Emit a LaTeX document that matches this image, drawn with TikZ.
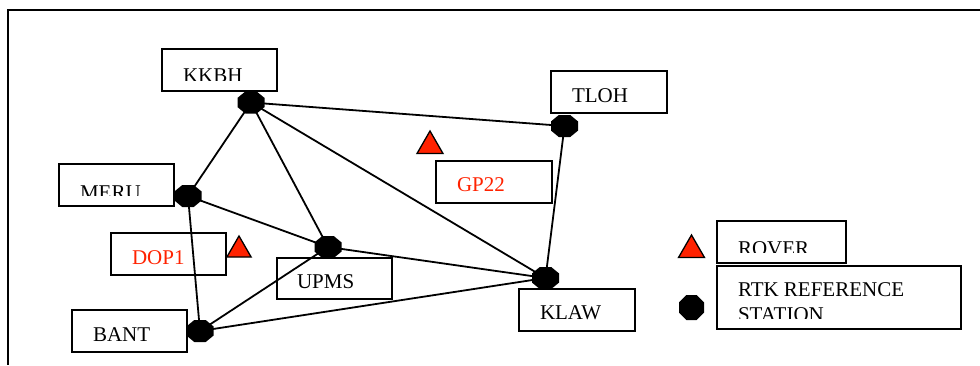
\documentclass[tikz,border=0pt]{standalone}
\usepackage{fontspec}
\setmainfont{Liberation Serif}
\usetikzlibrary{shapes.geometric,backgrounds}
\definecolor{roverred}{RGB}{255,34,0}
\newcommand\labbox[9]{%
  \node[box, anchor=north west, minimum width={(#4-#2)*1pt}, minimum height={(#5-#3)*1pt}] (#1box) at (#2,#3) {};
  \begin{scope}
    \clip (#2,#3) rectangle (#4,#5-11);
    \node[lbl, text=#8] (#1txt) at (#6,#7) {#9};
  \end{scope}}
\newcommand\octfill[3]{% node name, x cut, y cut
  \fill[black] ([xshift=#2]#1.north west) -- ([xshift=-#2]#1.north east) -- ([yshift=-#3]#1.north east)
   -- ([yshift=#3]#1.south east) -- ([xshift=-#2]#1.south east) -- ([xshift=#2]#1.south west)
   -- ([yshift=#3]#1.south west) -- ([yshift=-#3]#1.north west) -- cycle;}
\begin{document}
\begin{tikzpicture}[x=1pt,y=-1pt,
  box/.style={draw=black, line width=2pt, inner sep=0pt, outer sep=0pt},
  lbl/.style={anchor=base west, inner sep=0pt, outer sep=0pt, font=\fontsize{21pt}{25pt}\selectfont},
  stn/.style={rectangle, inner sep=0pt, outer sep=0pt, minimum width=27pt, minimum height=22pt},
  link/.style={line width=1.8pt},
  rover/.style={regular polygon, regular polygon sides=3, inner sep=0pt, outer sep=0pt, fill=roverred, draw=black, line width=1.3pt}]
\useasboundingbox (0,0) rectangle (980,365);
\draw[line width=2pt] (980,9.5) -- (8,9.5) -- (8,365);

% labelled boxes
\labbox{kkbh}{162}{49}{277}{91}{183}{82}{black}{KKBH}
\labbox{meru}{59}{164}{174}{206}{80}{199}{black}{MERU}
\labbox{dop}{111}{233}{226}{275}{132}{264}{roverred}{DOP1}
\labbox{upms}{277}{258}{392}{299}{297}{288}{black}{UPMS}
\labbox{bant}{72}{310}{187}{352}{93}{341}{black}{BANT}
\labbox{klaw}{519}{289}{635}{331}{540}{319}{black}{KLAW}
\labbox{tloh}{551}{71}{667}{113}{572}{102}{black}{TLOH}
\labbox{gp}{436}{161}{552}{203}{457}{191}{roverred}{GP22}
\labbox{rover}{717}{221}{846}{263}{738}{255}{black}{ROVER}

% legend box with two lines
\node[box, anchor=north west, minimum width=244pt, minimum height=63pt] (rtkbox) at (717,266) {};
\begin{scope}
  \clip (717,266) rectangle (961,318);
  \node[lbl] (rtktxt) at (738,296) {RTK REFERENCE};
  \node[lbl] (stattxt) at (738,321) {STATION};
\end{scope}

% stations
\node[stn] (kkbh) at (251,102.5) {};
\node[stn] (meru) at (188,196) {};
\node[stn] (upms) at (328,247) {};
\node[stn] (bant) at (200,331) {};
\node[stn] (tloh) at (564.5,126) {};
\node[stn] (klaw) at (545.5,278) {};
\node[stn, minimum width=25pt, minimum height=25pt] (legstn) at (691.5,307.5) {};
\foreach \s in {kkbh,meru,upms,bant,tloh,klaw}{\octfill{\s}{7.8pt}{6.4pt}}
\octfill{legstn}{7.3pt}{7.3pt}

% rovers
\node[rover, minimum size=28pt] (doptri) at (239,250) {};
\node[rover, minimum size=30pt] (gptri) at (430,146) {};
\node[rover, minimum size=30pt] (legtri) at (691.5,250) {};

\begin{scope}[on background layer]
  \draw[link] (kkbh.center) -- (tloh.center);
  \draw[link] (kkbh.center) -- (meru.center);
  \draw[link] (kkbh.center) -- (upms.center);
  \draw[link] (kkbh.center) -- (klaw.center);
  \draw[link] (meru.center) -- (upms.center);
  \draw[link] (meru.center) -- (bant.center);
  \draw[link] (upms.center) -- (klaw.center);
  \draw[link] (upms.center) -- (bant.center);
  \draw[link] (bant.center) -- (klaw.center);
  \draw[link] (tloh.center) -- (klaw.center);
\end{scope}
\end{tikzpicture}
\end{document}
